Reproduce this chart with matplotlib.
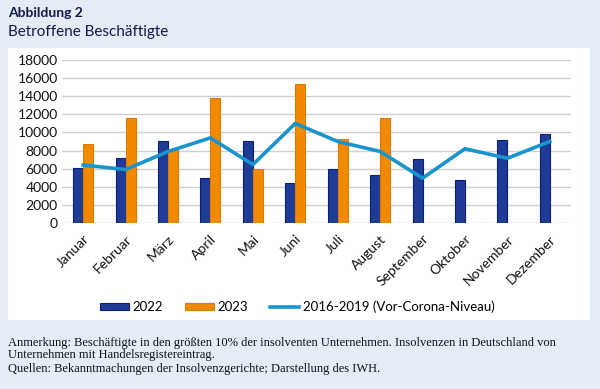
import numpy as np
import matplotlib.pyplot as plt
from matplotlib.patches import Rectangle

months = ['Januar', 'Februar', 'März', 'April', 'Mai', 'Juni', 'Juli',
          'August', 'September', 'Oktober', 'November', 'Dezember']
v2022 = [6050, 7150, 9100, 5000, 9100, 4400, 6000, 5300, 7100, 4700, 9200, 9850]
v2023 = [8700, 11550, 8100, 13800, 6000, 15400, 9250, 11550]
pre_corona = [6400, 5900, 7900, 9400, 6450, 11000, 9000, 7900, 4950, 8200, 7150, 9000]
yticks = list(range(0, 18001, 2000))

plt.rcParams['font.family'] = ['Lato', 'DejaVu Sans']

bg = '#e4ecf7'
navy = '#1e3c96'
orange = '#f28a00'
cyan = '#1993cc'

fig = plt.figure(figsize=(6, 3.89), dpi=100, facecolor=bg)
# white panel behind chart
fig.patches.append(Rectangle((8 / 600, 1 - 320 / 389), 582 / 600, 272 / 389,
                             transform=fig.transFigure, facecolor='white',
                             edgecolor='none', zorder=-5))

ax = fig.add_axes([62 / 600, 1 - 223 / 389, 509 / 600, 163 / 389])
ax.set_zorder(2)
ax.set_facecolor('white')

x = np.arange(len(months))
w = 0.235
b1 = ax.bar(x - w / 2, v2022, w, color=navy, edgecolor='#0b1f78', linewidth=0.8,
            label='2022', zorder=2)
b2 = ax.bar(x[:len(v2023)] + w / 2, v2023, w, color=orange, edgecolor='#d97a00',
            linewidth=0.8, label='2023', zorder=2)
ln, = ax.plot(x, pre_corona, color=cyan, linewidth=2.6,
              label='2016-2019 (Vor-Corona-Niveau)', zorder=3)

ax.set_xlim(-0.5, len(months) - 0.5)
ax.set_ylim(0, 18000)
ax.set_yticks(yticks)
ax.set_yticklabels([str(t) for t in yticks], fontsize=10, color='#111111')
ax.set_xticks(x)
ax.set_xticklabels(months, rotation=45, ha='right', rotation_mode='anchor',
                   fontsize=10, color='#111111')
ax.tick_params(length=0, pad=3)
ax.tick_params(axis='x', pad=7)
ax.grid(axis='y', color='#d0d0d0', linewidth=1)
ax.set_axisbelow(True)
for s in ax.spines.values():
    s.set_visible(False)

fig.legend([b1, b2, ln], ['2022', '2023', '2016-2019 (Vor-Corona-Niveau)'],
           loc='center', bbox_to_anchor=(297 / 600, 1 - 307 / 389), ncol=3,
           frameon=False, fontsize=9.5, handlelength=2.2, handleheight=0.5,
           columnspacing=1.7, handletextpad=0.25)

fig.text(8 / 600, 1 - 13 / 389, 'Abbildung 2', fontsize=10, fontweight='bold',
         color='#14184a', va='center')
fig.text(8 / 600, 1 - 32 / 389, 'Betroffene Beschäftigte', fontsize=11,
         color='#14184a', va='center')

notes = ['Anmerkung: Beschäftigte in den größten 10% der insolventen Unternehmen. '
         'Insolvenzen in Deutschland von',
         'Unternehmen mit Handelsregistereintrag.',
         'Quellen: Bekanntmachungen der Insolvenzgerichte; Darstellung des IWH.']
for txt, yy in zip(notes, [343, 355, 369]):
    fig.text(8 / 600, 1 - yy / 389, txt, fontsize=9, family='Liberation Serif',
             color='#111111', va='center')

fig.savefig('out.png', dpi=100, facecolor=bg)
